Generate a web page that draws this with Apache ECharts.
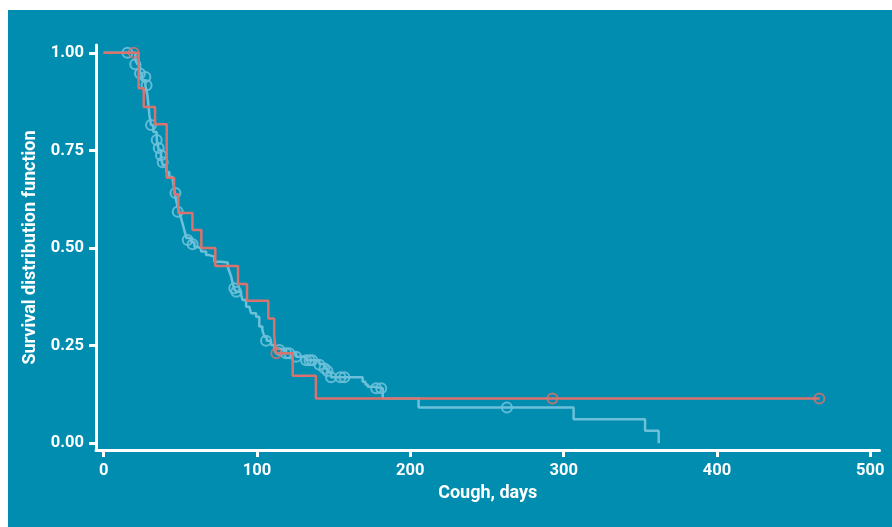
<!DOCTYPE html>
<html><head><meta charset="utf-8">
<script src="https://cdn.jsdelivr.net/npm/echarts@6/dist/echarts.min.js"></script>
<style>
html,body{margin:0;padding:0;background:#ffffff;width:892px;height:527px;overflow:hidden}
#chart{position:absolute;left:8px;top:10px;width:884px;height:517px;background:#018db0}
</style>
</head><body><div id="chart"></div>
<script>
const xTicks = [0, 100, 200, 300, 400, 500];
const yTicks = [0, 0.25, 0.5, 0.75, 1];

const redTimes = [0, 22.8, 26.1, 33.5, 41.1, 45.9, 48.7, 57.9, 63.7, 72.8, 87.6, 93.5, 107.4, 111.2, 112.4, 123.3, 138.4, 467];
const redSurv  = [1, 0.909, 0.861, 0.817, 0.680, 0.638, 0.590, 0.546, 0.500, 0.454, 0.408, 0.365, 0.320, 0.277, 0.231, 0.173, 0.115, 0.115];
const redCensorTimes = [19.6, 112.6, 292.7, 466.8];
const redCensorSurv  = [1.0, 0.231, 0.115, 0.115];

const blueTimes = [0, 20.7, 22.0, 23.7, 25.2, 27.2, 28.5, 29.2, 29.8, 30.9, 32.4, 34.6, 35.9, 37.4, 38.5, 40.9, 42.8, 45.0, 46.1, 47.2,
  48.3, 49.4, 50.5, 51.5, 52.6, 53.9, 57.0, 59.2, 61.3, 63.5, 66.8, 68.9, 72.2, 76.6, 80.9, 82.0, 83.1, 84.1, 85.2, 86.5,
  89.6, 90.7, 92.9, 95.0, 96.1, 99.4, 101.5, 103.5, 104.8, 106.3, 109.2, 111.3, 114.6, 119.0, 125.5, 132.0, 140.7, 144.0, 145.9, 148.3,
  168.9, 170.7, 172.2, 176.5, 182.0, 205.4, 306.5, 353.1, 362.0];
const blueSurv = [1, 0.981, 0.971, 0.947, 0.930, 0.915, 0.892, 0.866, 0.841, 0.815, 0.797, 0.777, 0.751, 0.730, 0.713, 0.695, 0.682, 0.674, 0.649, 0.623,
  0.605, 0.592, 0.576, 0.562, 0.546, 0.526, 0.515, 0.503, 0.499, 0.491, 0.482, 0.478, 0.465, 0.463, 0.452, 0.440, 0.428, 0.411, 0.395, 0.388,
  0.380, 0.367, 0.350, 0.346, 0.333, 0.324, 0.299, 0.290, 0.273, 0.263, 0.252, 0.243, 0.239, 0.231, 0.222, 0.213, 0.203, 0.192, 0.183, 0.169,
  0.158, 0.151, 0.145, 0.141, 0.115, 0.092, 0.062, 0.032, 0];
const blueCensorTimes = [15.5, 20.6, 23.7, 27.2, 28.0, 30.9, 34.6, 35.9, 37.4, 38.5, 46.8, 48.3, 54.8, 58.0, 85.2, 86.5, 105.9, 114.6, 119.0, 121.0,
  125.5, 132.0, 134.2, 136.0, 140.7, 144.0, 146.0, 148.3, 154.4, 157.0, 177.7, 181.0, 263.0];
const blueCensorSurv = [1.0, 0.971, 0.947, 0.938, 0.917, 0.815, 0.777, 0.756, 0.738, 0.720, 0.641, 0.593, 0.521, 0.510, 0.397, 0.388, 0.263, 0.239, 0.231, 0.231,
  0.222, 0.213, 0.213, 0.213, 0.201, 0.192, 0.185, 0.169, 0.169, 0.169, 0.141, 0.141, 0.092];

const RED = '#d9736d';
const BLUE = '#6cc0d9';
const pair = (a, b) => a.map((t, i) => [t, b[i]]);
const font = 'Roboto, "DejaVu Sans", sans-serif';

const chart = echarts.init(document.getElementById('chart'), null, {renderer: 'canvas'});
chart.setOption({
  animation: false,
  backgroundColor: 'transparent',
  grid: {left: 88, top: 35, right: 12.5, bottom: 77, containLabel: false, outerBoundsMode: 'none'},
  xAxis: {
    type: 'value', min: -5, max: 506,
    name: 'Cough, days', nameLocation: 'middle', nameGap: 34,
    nameTextStyle: {color: '#fff', fontWeight: 'bold', fontSize: 18, fontFamily: font},
    axisLine: {show: true, onZero: false, lineStyle: {color: '#fff', width: 3}},
    axisTick: {show: true, customValues: xTicks, length: 7, lineStyle: {color: '#fff', width: 3}},
    axisLabel: {customValues: xTicks, color: '#fff', fontWeight: 'bold', fontSize: 16.5, fontFamily: font, margin: 12},
    splitLine: {show: false}
  },
  yAxis: {
    type: 'value', min: -0.017, max: 1.02,
    name: 'Survival distribution function', nameLocation: 'middle', nameGap: 47,
    nameTextStyle: {color: '#fff', fontWeight: 'bold', fontSize: 18, fontFamily: font},
    axisLine: {show: true, onZero: false, lineStyle: {color: '#fff', width: 3}},
    axisTick: {show: true, customValues: yTicks, length: 7, lineStyle: {color: '#fff', width: 3}},
    axisLabel: {customValues: yTicks, color: '#fff', fontWeight: 'bold', fontSize: 16.5, fontFamily: font, margin: 12,
      formatter: v => v.toFixed(2)},
    splitLine: {show: false}
  },
  series: [
    {type: 'line', step: 'end', data: pair(blueTimes, blueSurv), showSymbol: false, symbol: 'none',
      lineStyle: {color: BLUE, width: 2.5}, z: 2},
    {type: 'scatter', data: pair(blueCensorTimes, blueCensorSurv), symbol: 'circle', symbolSize: 10,
      itemStyle: {color: 'rgba(0,0,0,0)', borderColor: BLUE, borderWidth: 2, opacity: 0.9}, z: 3},
    {type: 'line', step: 'end', data: pair(redTimes, redSurv), showSymbol: false, symbol: 'none',
      lineStyle: {color: RED, width: 2.5}, z: 4},
    {type: 'scatter', data: pair(redCensorTimes, redCensorSurv), symbol: 'circle', symbolSize: 10,
      itemStyle: {color: 'rgba(0,0,0,0)', borderColor: RED, borderWidth: 2}, z: 5}
  ]
});
</script>
</body></html>
